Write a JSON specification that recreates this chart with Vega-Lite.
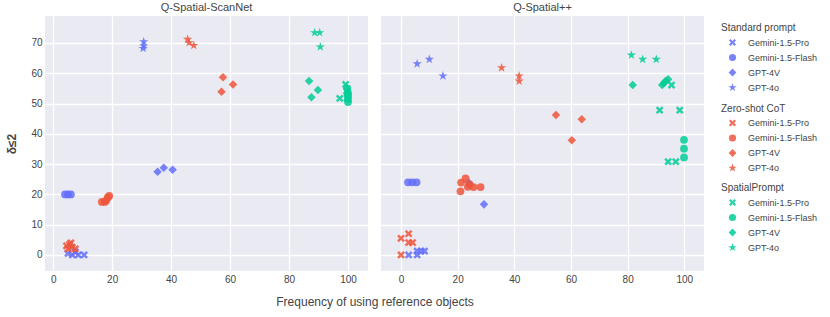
{
  "$schema": "https://vega.github.io/schema/vega-lite/v6.json",
  "padding": {"left": 5, "top": 2, "right": 5, "bottom": 5},
  "datasets": {
    "pts": [
      {"d": "Q-Spatial-ScanNet", "p": "S", "m": "Gemini-1.5-Pro", "x": 5, "y": 0.5},
      {"d": "Q-Spatial-ScanNet", "p": "S", "m": "Gemini-1.5-Pro", "x": 6.5, "y": 0},
      {"d": "Q-Spatial-ScanNet", "p": "S", "m": "Gemini-1.5-Pro", "x": 7.5, "y": 1},
      {"d": "Q-Spatial-ScanNet", "p": "S", "m": "Gemini-1.5-Pro", "x": 8.5, "y": 0},
      {"d": "Q-Spatial-ScanNet", "p": "S", "m": "Gemini-1.5-Pro", "x": 10.5, "y": 0},
      {"d": "Q-Spatial-ScanNet", "p": "S", "m": "Gemini-1.5-Flash", "x": 4, "y": 20},
      {"d": "Q-Spatial-ScanNet", "p": "S", "m": "Gemini-1.5-Flash", "x": 5, "y": 20},
      {"d": "Q-Spatial-ScanNet", "p": "S", "m": "Gemini-1.5-Flash", "x": 6, "y": 20},
      {"d": "Q-Spatial-ScanNet", "p": "S", "m": "GPT-4V", "x": 35.4, "y": 27.5},
      {"d": "Q-Spatial-ScanNet", "p": "S", "m": "GPT-4V", "x": 37.5, "y": 28.8},
      {"d": "Q-Spatial-ScanNet", "p": "S", "m": "GPT-4V", "x": 40.5, "y": 28.1},
      {"d": "Q-Spatial-ScanNet", "p": "S", "m": "GPT-4o", "x": 30.7, "y": 70.4},
      {"d": "Q-Spatial-ScanNet", "p": "S", "m": "GPT-4o", "x": 30.7, "y": 69},
      {"d": "Q-Spatial-ScanNet", "p": "S", "m": "GPT-4o", "x": 30.5, "y": 68.2},
      {"d": "Q-Spatial-ScanNet", "p": "Z", "m": "Gemini-1.5-Pro", "x": 4.5, "y": 3},
      {"d": "Q-Spatial-ScanNet", "p": "Z", "m": "Gemini-1.5-Pro", "x": 5, "y": 2},
      {"d": "Q-Spatial-ScanNet", "p": "Z", "m": "Gemini-1.5-Pro", "x": 6, "y": 4},
      {"d": "Q-Spatial-ScanNet", "p": "Z", "m": "Gemini-1.5-Pro", "x": 6.5, "y": 2.5},
      {"d": "Q-Spatial-ScanNet", "p": "Z", "m": "Gemini-1.5-Pro", "x": 7.5, "y": 2},
      {"d": "Q-Spatial-ScanNet", "p": "Z", "m": "Gemini-1.5-Pro", "x": 5.5, "y": 3.5},
      {"d": "Q-Spatial-ScanNet", "p": "Z", "m": "Gemini-1.5-Flash", "x": 16.5, "y": 17.5},
      {"d": "Q-Spatial-ScanNet", "p": "Z", "m": "Gemini-1.5-Flash", "x": 17.5, "y": 17.5},
      {"d": "Q-Spatial-ScanNet", "p": "Z", "m": "Gemini-1.5-Flash", "x": 18, "y": 18},
      {"d": "Q-Spatial-ScanNet", "p": "Z", "m": "Gemini-1.5-Flash", "x": 18.5, "y": 19},
      {"d": "Q-Spatial-ScanNet", "p": "Z", "m": "Gemini-1.5-Flash", "x": 19, "y": 19.5},
      {"d": "Q-Spatial-ScanNet", "p": "Z", "m": "GPT-4V", "x": 57.6, "y": 58.7},
      {"d": "Q-Spatial-ScanNet", "p": "Z", "m": "GPT-4V", "x": 61, "y": 56.3},
      {"d": "Q-Spatial-ScanNet", "p": "Z", "m": "GPT-4V", "x": 57.1, "y": 53.9},
      {"d": "Q-Spatial-ScanNet", "p": "Z", "m": "GPT-4o", "x": 45.6, "y": 71.2},
      {"d": "Q-Spatial-ScanNet", "p": "Z", "m": "GPT-4o", "x": 46.1, "y": 70.1},
      {"d": "Q-Spatial-ScanNet", "p": "Z", "m": "GPT-4o", "x": 47.7, "y": 69.2},
      {"d": "Q-Spatial-ScanNet", "p": "P", "m": "Gemini-1.5-Pro", "x": 97.2, "y": 51.7},
      {"d": "Q-Spatial-ScanNet", "p": "P", "m": "Gemini-1.5-Pro", "x": 99.2, "y": 56.3},
      {"d": "Q-Spatial-ScanNet", "p": "P", "m": "Gemini-1.5-Pro", "x": 99.5, "y": 54.1},
      {"d": "Q-Spatial-ScanNet", "p": "P", "m": "Gemini-1.5-Pro", "x": 99.7, "y": 51.9},
      {"d": "Q-Spatial-ScanNet", "p": "P", "m": "Gemini-1.5-Flash", "x": 100, "y": 53.5},
      {"d": "Q-Spatial-ScanNet", "p": "P", "m": "Gemini-1.5-Flash", "x": 100, "y": 52.5},
      {"d": "Q-Spatial-ScanNet", "p": "P", "m": "Gemini-1.5-Flash", "x": 100, "y": 51.5},
      {"d": "Q-Spatial-ScanNet", "p": "P", "m": "Gemini-1.5-Flash", "x": 100, "y": 50.5},
      {"d": "Q-Spatial-ScanNet", "p": "P", "m": "Gemini-1.5-Flash", "x": 99.8, "y": 55},
      {"d": "Q-Spatial-ScanNet", "p": "P", "m": "GPT-4V", "x": 86.8, "y": 57.4},
      {"d": "Q-Spatial-ScanNet", "p": "P", "m": "GPT-4V", "x": 89.8, "y": 54.5},
      {"d": "Q-Spatial-ScanNet", "p": "P", "m": "GPT-4V", "x": 87.6, "y": 52.1},
      {"d": "Q-Spatial-ScanNet", "p": "P", "m": "GPT-4o", "x": 88.7, "y": 73.4},
      {"d": "Q-Spatial-ScanNet", "p": "P", "m": "GPT-4o", "x": 90.4, "y": 73.4},
      {"d": "Q-Spatial-ScanNet", "p": "P", "m": "GPT-4o", "x": 90.6, "y": 68.7},
      {"d": "Q-Spatial++", "p": "S", "m": "Gemini-1.5-Pro", "x": 2.7, "y": 0},
      {"d": "Q-Spatial++", "p": "S", "m": "Gemini-1.5-Pro", "x": 5.7, "y": 0},
      {"d": "Q-Spatial++", "p": "S", "m": "Gemini-1.5-Pro", "x": 5.7, "y": 1.3},
      {"d": "Q-Spatial++", "p": "S", "m": "Gemini-1.5-Pro", "x": 7.1, "y": 1.3},
      {"d": "Q-Spatial++", "p": "S", "m": "Gemini-1.5-Pro", "x": 8.3, "y": 1.3},
      {"d": "Q-Spatial++", "p": "S", "m": "Gemini-1.5-Flash", "x": 2.5, "y": 24},
      {"d": "Q-Spatial++", "p": "S", "m": "Gemini-1.5-Flash", "x": 4, "y": 24},
      {"d": "Q-Spatial++", "p": "S", "m": "Gemini-1.5-Flash", "x": 5.5, "y": 24},
      {"d": "Q-Spatial++", "p": "S", "m": "GPT-4V", "x": 23.9, "y": 23.9},
      {"d": "Q-Spatial++", "p": "S", "m": "GPT-4V", "x": 29.3, "y": 16.7},
      {"d": "Q-Spatial++", "p": "S", "m": "GPT-4o", "x": 5.7, "y": 63.1},
      {"d": "Q-Spatial++", "p": "S", "m": "GPT-4o", "x": 10, "y": 64.6},
      {"d": "Q-Spatial++", "p": "S", "m": "GPT-4o", "x": 14.8, "y": 59.1},
      {"d": "Q-Spatial++", "p": "Z", "m": "Gemini-1.5-Pro", "x": 0, "y": 5.5},
      {"d": "Q-Spatial++", "p": "Z", "m": "Gemini-1.5-Pro", "x": 2.7, "y": 7},
      {"d": "Q-Spatial++", "p": "Z", "m": "Gemini-1.5-Pro", "x": 2.7, "y": 4.1},
      {"d": "Q-Spatial++", "p": "Z", "m": "Gemini-1.5-Pro", "x": 4.1, "y": 4.1},
      {"d": "Q-Spatial++", "p": "Z", "m": "Gemini-1.5-Pro", "x": 0, "y": 0},
      {"d": "Q-Spatial++", "p": "Z", "m": "Gemini-1.5-Flash", "x": 21.2, "y": 23.9},
      {"d": "Q-Spatial++", "p": "Z", "m": "Gemini-1.5-Flash", "x": 22.8, "y": 25.3},
      {"d": "Q-Spatial++", "p": "Z", "m": "Gemini-1.5-Flash", "x": 23.6, "y": 22.5},
      {"d": "Q-Spatial++", "p": "Z", "m": "Gemini-1.5-Flash", "x": 25.6, "y": 22.4},
      {"d": "Q-Spatial++", "p": "Z", "m": "Gemini-1.5-Flash", "x": 28.1, "y": 22.4},
      {"d": "Q-Spatial++", "p": "Z", "m": "Gemini-1.5-Flash", "x": 21, "y": 21},
      {"d": "Q-Spatial++", "p": "Z", "m": "Gemini-1.5-Flash", "x": 24.2, "y": 23.3},
      {"d": "Q-Spatial++", "p": "Z", "m": "GPT-4V", "x": 54.7, "y": 46.2},
      {"d": "Q-Spatial++", "p": "Z", "m": "GPT-4V", "x": 63.8, "y": 44.8},
      {"d": "Q-Spatial++", "p": "Z", "m": "GPT-4V", "x": 60.3, "y": 37.9},
      {"d": "Q-Spatial++", "p": "Z", "m": "GPT-4o", "x": 35.5, "y": 61.8},
      {"d": "Q-Spatial++", "p": "Z", "m": "GPT-4o", "x": 41.7, "y": 59.1},
      {"d": "Q-Spatial++", "p": "Z", "m": "GPT-4o", "x": 41.7, "y": 57.4},
      {"d": "Q-Spatial++", "p": "P", "m": "Gemini-1.5-Pro", "x": 91.3, "y": 47.8},
      {"d": "Q-Spatial++", "p": "P", "m": "Gemini-1.5-Pro", "x": 98.4, "y": 47.8},
      {"d": "Q-Spatial++", "p": "P", "m": "Gemini-1.5-Pro", "x": 94.3, "y": 30.8},
      {"d": "Q-Spatial++", "p": "P", "m": "Gemini-1.5-Pro", "x": 97, "y": 30.8},
      {"d": "Q-Spatial++", "p": "P", "m": "Gemini-1.5-Pro", "x": 95.5, "y": 56.1},
      {"d": "Q-Spatial++", "p": "P", "m": "Gemini-1.5-Flash", "x": 99.9, "y": 38},
      {"d": "Q-Spatial++", "p": "P", "m": "Gemini-1.5-Flash", "x": 99.9, "y": 35.1},
      {"d": "Q-Spatial++", "p": "P", "m": "Gemini-1.5-Flash", "x": 99.9, "y": 32.2},
      {"d": "Q-Spatial++", "p": "P", "m": "GPT-4V", "x": 81.8, "y": 56.1},
      {"d": "Q-Spatial++", "p": "P", "m": "GPT-4V", "x": 92.2, "y": 56.1},
      {"d": "Q-Spatial++", "p": "P", "m": "GPT-4V", "x": 93.4, "y": 57.4},
      {"d": "Q-Spatial++", "p": "P", "m": "GPT-4V", "x": 94.3, "y": 58},
      {"d": "Q-Spatial++", "p": "P", "m": "GPT-4V", "x": 92.8, "y": 56.7},
      {"d": "Q-Spatial++", "p": "P", "m": "GPT-4o", "x": 81.3, "y": 66},
      {"d": "Q-Spatial++", "p": "P", "m": "GPT-4o", "x": 85.3, "y": 64.6},
      {"d": "Q-Spatial++", "p": "P", "m": "GPT-4o", "x": 90.1, "y": 64.6}
    ]
  },
  "data": {"name": "pts"},
  "spacing": 13,
  "bounds": "flush",
  "hconcat": [
    {
      "title": "Q-Spatial-ScanNet",
      "width": 323,
      "height": 255,
      "transform": [{"filter": "datum.d == 'Q-Spatial-ScanNet'"}],
      "layer": [
        {
          "transform": [{"filter": "datum.p == 'S'"}],
          "mark": {"type": "point", "filled": true, "color": "#636EFA", "opacity": 0.85, "size": 60},
          "encoding": {
            "x": {"field": "x", "type": "quantitative", "title": "Frequency of using reference objects", "scale": {"zero": false, "nice": false, "padding": 20}, "axis": {"values": [0, 20, 40, 60, 80, 100], "titleX": 329.5, "titlePadding": 12}},
            "y": {"field": "y", "type": "quantitative", "title": "δ≤2", "scale": {"domain": [-5.3, 78.9], "nice": false}, "axis": {"values": [0, 10, 20, 30, 40, 50, 60, 70]}},
            "shape": {"field": "m", "type": "nominal", "scale": {"domain": ["Gemini-1.5-Pro", "Gemini-1.5-Flash", "GPT-4V", "GPT-4o"], "range": ["M0,-0.45L0.55,-1L1,-0.55L0.45,0L1,0.55L0.55,1L0,0.45L-0.55,1L-1,0.55L-0.45,0L-1,-0.55L-0.55,-1Z", "circle", "M0,-1.1L1.1,0L0,1.1L-1.1,0Z", "M0,-1.25L0.28,-0.385L1.19,-0.386L0.451,0.147L0.735,1.011L0,0.475L-0.735,1.011L-0.451,0.147L-1.19,-0.386L-0.28,-0.385Z"]}, "legend": null}
          }
        },
        {
          "transform": [{"filter": "datum.p == 'Z'"}],
          "mark": {"type": "point", "filled": true, "color": "#EF553B", "opacity": 0.85, "size": 60},
          "encoding": {
            "x": {"field": "x", "type": "quantitative", "title": "Frequency of using reference objects", "scale": {"zero": false, "nice": false, "padding": 20}, "axis": {"values": [0, 20, 40, 60, 80, 100], "titleX": 329.5, "titlePadding": 12}},
            "y": {"field": "y", "type": "quantitative", "title": "δ≤2", "scale": {"domain": [-5.3, 78.9], "nice": false}, "axis": {"values": [0, 10, 20, 30, 40, 50, 60, 70]}},
            "shape": {"field": "m", "type": "nominal", "scale": {"domain": ["Gemini-1.5-Pro", "Gemini-1.5-Flash", "GPT-4V", "GPT-4o"], "range": ["M0,-0.45L0.55,-1L1,-0.55L0.45,0L1,0.55L0.55,1L0,0.45L-0.55,1L-1,0.55L-0.45,0L-1,-0.55L-0.55,-1Z", "circle", "M0,-1.1L1.1,0L0,1.1L-1.1,0Z", "M0,-1.25L0.28,-0.385L1.19,-0.386L0.451,0.147L0.735,1.011L0,0.475L-0.735,1.011L-0.451,0.147L-1.19,-0.386L-0.28,-0.385Z"]}, "legend": null}
          }
        },
        {
          "transform": [{"filter": "datum.p == 'P'"}],
          "mark": {"type": "point", "filled": true, "color": "#00CC96", "opacity": 0.85, "size": 60},
          "encoding": {
            "x": {"field": "x", "type": "quantitative", "title": "Frequency of using reference objects", "scale": {"zero": false, "nice": false, "padding": 20}, "axis": {"values": [0, 20, 40, 60, 80, 100], "titleX": 329.5, "titlePadding": 12}},
            "y": {"field": "y", "type": "quantitative", "title": "δ≤2", "scale": {"domain": [-5.3, 78.9], "nice": false}, "axis": {"values": [0, 10, 20, 30, 40, 50, 60, 70]}},
            "shape": {"field": "m", "type": "nominal", "scale": {"domain": ["Gemini-1.5-Pro", "Gemini-1.5-Flash", "GPT-4V", "GPT-4o"], "range": ["M0,-0.45L0.55,-1L1,-0.55L0.45,0L1,0.55L0.55,1L0,0.45L-0.55,1L-1,0.55L-0.45,0L-1,-0.55L-0.55,-1Z", "circle", "M0,-1.1L1.1,0L0,1.1L-1.1,0Z", "M0,-1.25L0.28,-0.385L1.19,-0.386L0.451,0.147L0.735,1.011L0,0.475L-0.735,1.011L-0.451,0.147L-1.19,-0.386L-0.28,-0.385Z"]}, "legend": null}
          }
        }
      ],
      "resolve": {"scale": {"shape": "independent"}}
    },
    {
      "title": "Q-Spatial++",
      "width": 323,
      "height": 255,
      "transform": [{"filter": "datum.d == 'Q-Spatial++'"}],
      "layer": [
        {
          "transform": [{"filter": "datum.p == 'S'"}],
          "mark": {"type": "point", "filled": true, "color": "#636EFA", "opacity": 0.85, "size": 60},
          "encoding": {
            "x": {"field": "x", "type": "quantitative", "title": null, "scale": {"zero": false, "nice": false, "padding": 20}, "axis": {"values": [0, 20, 40, 60, 80, 100]}},
            "y": {"field": "y", "type": "quantitative", "title": null, "scale": {"domain": [-5.3, 78.9], "nice": false}, "axis": {"values": [0, 10, 20, 30, 40, 50, 60, 70], "labels": false}},
            "shape": {"field": "m", "type": "nominal", "scale": {"domain": ["Gemini-1.5-Pro", "Gemini-1.5-Flash", "GPT-4V", "GPT-4o"], "range": ["M0,-0.45L0.55,-1L1,-0.55L0.45,0L1,0.55L0.55,1L0,0.45L-0.55,1L-1,0.55L-0.45,0L-1,-0.55L-0.55,-1Z", "circle", "M0,-1.1L1.1,0L0,1.1L-1.1,0Z", "M0,-1.25L0.28,-0.385L1.19,-0.386L0.451,0.147L0.735,1.011L0,0.475L-0.735,1.011L-0.451,0.147L-1.19,-0.386L-0.28,-0.385Z"]}, "legend": {"title": "Standard prompt", "orient": "none", "legendX": 340, "legendY": 7}}
          }
        },
        {
          "transform": [{"filter": "datum.p == 'Z'"}],
          "mark": {"type": "point", "filled": true, "color": "#EF553B", "opacity": 0.85, "size": 60},
          "encoding": {
            "x": {"field": "x", "type": "quantitative", "title": null, "scale": {"zero": false, "nice": false, "padding": 20}, "axis": {"values": [0, 20, 40, 60, 80, 100]}},
            "y": {"field": "y", "type": "quantitative", "title": null, "scale": {"domain": [-5.3, 78.9], "nice": false}, "axis": {"values": [0, 10, 20, 30, 40, 50, 60, 70], "labels": false}},
            "shape": {"field": "m", "type": "nominal", "scale": {"domain": ["Gemini-1.5-Pro", "Gemini-1.5-Flash", "GPT-4V", "GPT-4o"], "range": ["M0,-0.45L0.55,-1L1,-0.55L0.45,0L1,0.55L0.55,1L0,0.45L-0.55,1L-1,0.55L-0.45,0L-1,-0.55L-0.55,-1Z", "circle", "M0,-1.1L1.1,0L0,1.1L-1.1,0Z", "M0,-1.25L0.28,-0.385L1.19,-0.386L0.451,0.147L0.735,1.011L0,0.475L-0.735,1.011L-0.451,0.147L-1.19,-0.386L-0.28,-0.385Z"]}, "legend": {"title": "Zero-shot CoT", "orient": "none", "legendX": 340, "legendY": 87.5}}
          }
        },
        {
          "transform": [{"filter": "datum.p == 'P'"}],
          "mark": {"type": "point", "filled": true, "color": "#00CC96", "opacity": 0.85, "size": 60},
          "encoding": {
            "x": {"field": "x", "type": "quantitative", "title": null, "scale": {"zero": false, "nice": false, "padding": 20}, "axis": {"values": [0, 20, 40, 60, 80, 100]}},
            "y": {"field": "y", "type": "quantitative", "title": null, "scale": {"domain": [-5.3, 78.9], "nice": false}, "axis": {"values": [0, 10, 20, 30, 40, 50, 60, 70], "labels": false}},
            "shape": {"field": "m", "type": "nominal", "scale": {"domain": ["Gemini-1.5-Pro", "Gemini-1.5-Flash", "GPT-4V", "GPT-4o"], "range": ["M0,-0.45L0.55,-1L1,-0.55L0.45,0L1,0.55L0.55,1L0,0.45L-0.55,1L-1,0.55L-0.45,0L-1,-0.55L-0.55,-1Z", "circle", "M0,-1.1L1.1,0L0,1.1L-1.1,0Z", "M0,-1.25L0.28,-0.385L1.19,-0.386L0.451,0.147L0.735,1.011L0,0.475L-0.735,1.011L-0.451,0.147L-1.19,-0.386L-0.28,-0.385Z"]}, "legend": {"title": "SpatialPrompt", "orient": "none", "legendX": 340, "legendY": 167}}
          }
        }
      ],
      "resolve": {"scale": {"shape": "independent"}}
    }
  ],
  "config": {
    "font": "Liberation Sans",
    "view": {"fill": "#EAEAF2", "stroke": null},
    "title": {"fontSize": 11, "fontWeight": "normal", "color": "#444", "offset": 3},
    "axis": {
      "grid": true,
      "gridColor": "#ffffff",
      "gridWidth": 1.3,
      "domain": false,
      "ticks": false,
      "labelColor": "#444",
      "labelFontSize": 10,
      "labelPadding": 3,
      "titleColor": "#444",
      "titleFontSize": 12
    },
    "axisY": {"titlePadding": 12},
    "axisX": {"titleFontWeight": "normal"},
    "legend": {
      "titleFontSize": 10,
      "titleFontWeight": "normal",
      "titleColor": "#444",
      "titlePadding": 5,
      "labelFontSize": 9,
      "labelColor": "#444",
      "symbolSize": 50,
      "rowPadding": 0,
      "symbolOffset": 7,
      "labelOffset": 11,
      "symbolOpacity": 0.85
    }
  }
}
